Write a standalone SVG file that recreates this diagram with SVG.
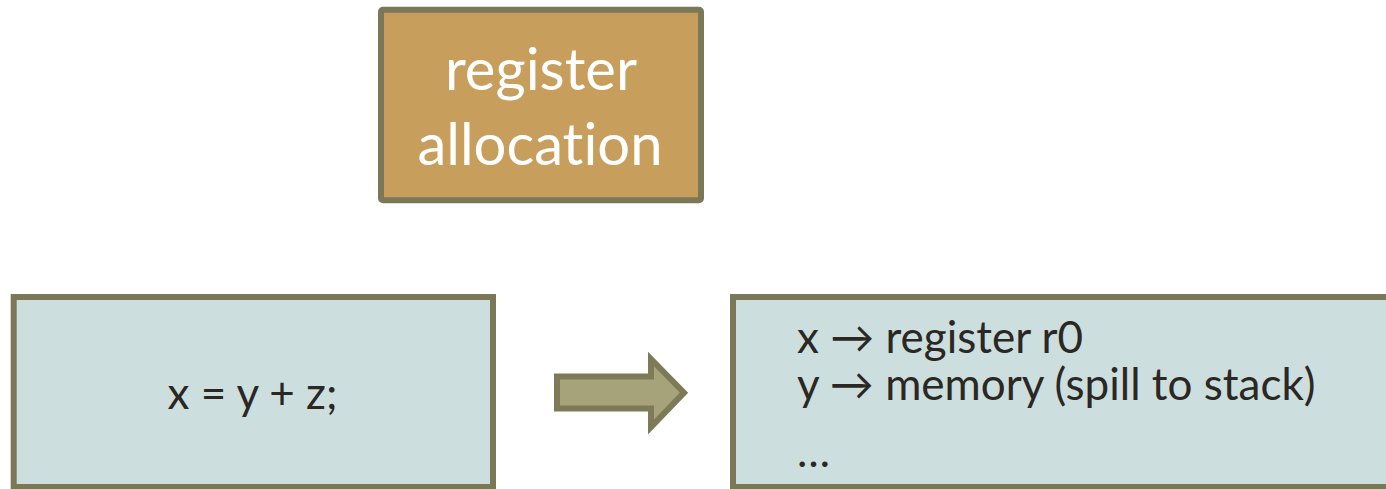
<svg xmlns="http://www.w3.org/2000/svg" width="1386" height="489" viewBox="0 0 1386 489">
<style>
.box{stroke:#7B7858;stroke-width:6}
.gold{fill:#C89E5C}
.pale{fill:#CCDEDE}
.t{font-family:Lato,"Open Sans","Liberation Sans",sans-serif;font-variant-ligatures:none;font-feature-settings:"liga" 0}
.title{fill:#FFFFFF;font-size:58px;text-anchor:middle}
.code{fill:#2B2722;font-size:44px}
.arrow{fill:#A6A37B;stroke:#7D7A58;stroke-width:6;stroke-linejoin:miter}
</style>
<rect width="1386" height="489" fill="#FFFFFF"/>
<g id="register-allocation">
<rect class="box gold" x="381" y="9.7" width="320" height="190.6" rx="2"/>
<text class="t title" x="541" y="90">register</text>
<text class="t title" x="540" y="165">allocation</text>
</g>
<g id="source">
<rect class="box pale" x="13.7" y="297" width="479.3" height="190"/>
<text class="t code" x="252.5" y="409" text-anchor="middle">x = y + z;</text>
</g>
<g id="connectors">
<polygon class="arrow" points="557,376.5 651,376.5 651,359 684,392.7 651,427 651,408.5 557,408.5"/>
</g>
<g id="result">
<rect class="box pale" x="733" y="297" width="670" height="190"/>
<text class="t code" x="797" y="353">x → register r0</text>
<text class="t code" x="797" y="400">y → memory (spill to stack)</text>
<text class="t code" x="797" y="467">…</text>
</g>
</svg>
